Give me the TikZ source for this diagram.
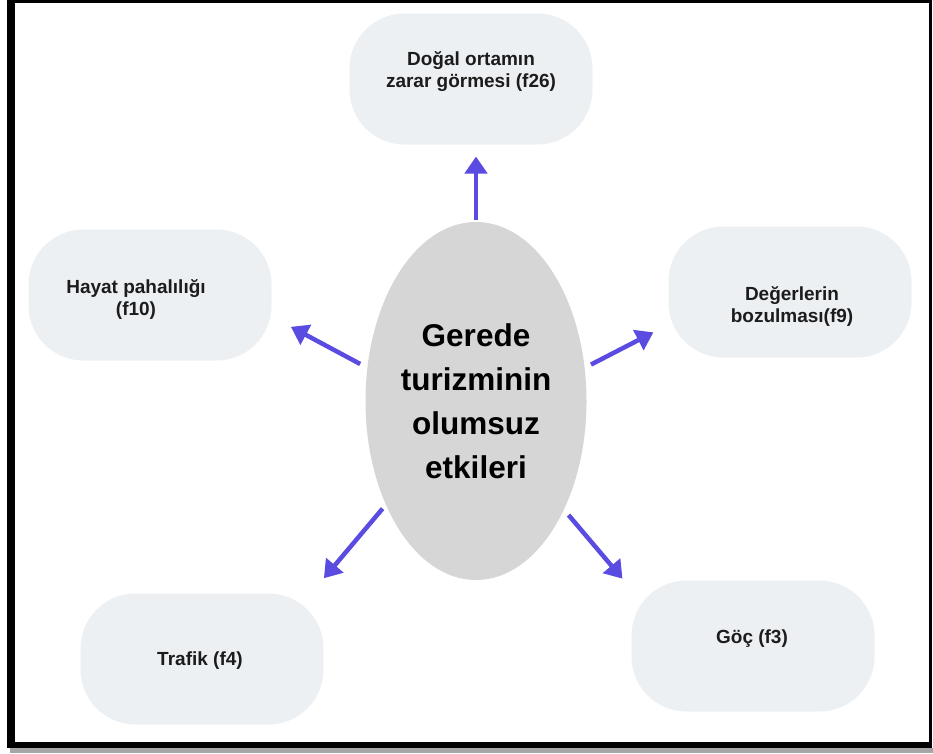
\documentclass[tikz,border=0pt]{standalone}
\usepackage{fontspec}
\setmainfont{Liberation Sans}
\usetikzlibrary{arrows.meta,shapes.geometric}
\definecolor{boxgray}{RGB}{237,240,243}
\definecolor{hubgray}{RGB}{214,214,214}
\definecolor{arrowblue}{RGB}{90,75,225}
\definecolor{txtdark}{RGB}{28,28,28}
\begin{document}
\begin{tikzpicture}[x=1pt, y=-1pt, line join=round, >={Triangle[width=22pt,length=17pt]},
  box/.style={fill=boxgray, rounded corners=55pt, minimum width=243pt, minimum height=131pt, inner sep=0pt, outer sep=0pt},
  lbl/.style={align=center, text=txtdark, font=\bfseries\fontsize{19}{22}\selectfont, inner sep=0pt},
  arr/.style={->, draw=arrowblue, line width=4.5pt}]
\useasboundingbox (0,0) rectangle (933,753);
% frame
\fill[gray!70] (10,748) rectangle (933,753);
\fill[black] (7,0) rectangle (932,748);
\fill[white] (15,3) rectangle (929,742);
% centre
\node[ellipse, fill=hubgray, minimum width=221pt, minimum height=358pt, inner sep=0pt, align=center,
  font=\bfseries\fontsize{31.5}{44}\selectfont] (hub) at (476,401) {Gerede\\turizminin\\olumsuz\\etkileri};
% effects
\node[box] (dogal) at (471,79) {};
\node[box] (hayat) at (150,295) {};
\node[box] (deger) at (790,292) {};
\node[box] (trafik) at (202,659) {};
\node[box] (goc) at (753,646) {};
\node[lbl] (dogalT) at (471,72) {Doğal ortamın\\zarar görmesi (f26)};
\node[lbl] (hayatT) at (136,299) {Hayat pahalılığı\\(f10)};
\node[lbl] (degerT) at (792,306) {Değerlerin\\bozulması(f9)};
\node[lbl] (trafikT) at (200,661) {Trafik (f4)};
\node[lbl] (gocT) at (752,639) {Göç (f3)};
% arrows
\draw[arr, shorten <=2pt, shorten >=12pt] (hub.north) -- (hub.north |- dogal.south);
\foreach \a/\n/\b/\gs/\ge in {163/hayat/-10/8/22, 17/deger/195/7/17, 229/trafik/31/5/20, -51/goc/155/7/14}
  \draw[arr, shorten <=\gs pt, shorten >=\ge pt] (hub.\a) -- (\n.\b);
\end{tikzpicture}
\end{document}
